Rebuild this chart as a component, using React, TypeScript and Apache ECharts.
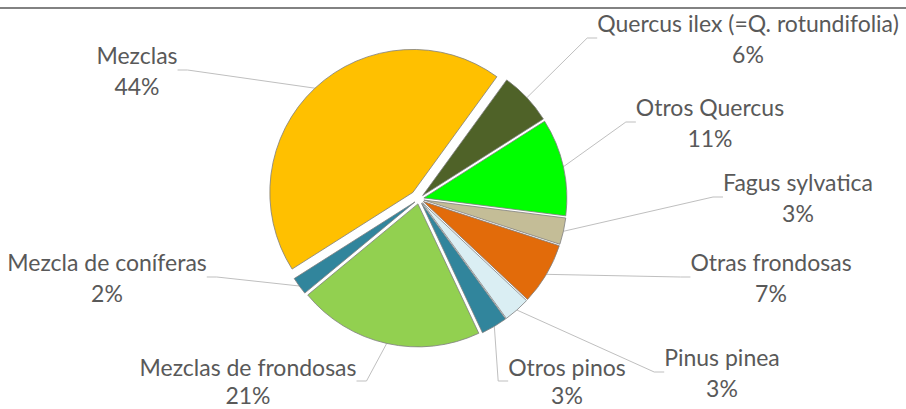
import React, { useEffect, useRef } from "react";
import * as echarts from "echarts";

const categories = [
  "Quercus ilex (=Q. rotundifolia)",
  "Otros Quercus",
  "Fagus sylvatica",
  "Otras frondosas",
  "Pinus pinea",
  "Otros pinos",
  "Mezclas de frondosas",
  "Mezcla de coníferas",
  "Mezclas",
];
const shares = [6, 11, 3, 7, 3, 3, 21, 2, 44];
const sliceColors = [
  "#4F6228",
  "#00FF00",
  "#C4BD97",
  "#E26B0A",
  "#DAEEF3",
  "#31859C",
  "#92D050",
  "#31859C",
  "#FFC000",
];
// explode distance of each slice (px)
const explode = [5, 5, 5, 5, 5, 5, 5, 5, 9];
// label block centres (px)
const labelPos: number[][] = [
  [748, 38],
  [710, 122],
  [798, 197],
  [771, 277],
  [722, 372],
  [567, 381],
  [248, 381],
  [107, 277],
  [137, 70],
];
// label line heights (px)
const labelLineHeights = [31, 31, 31, 31, 31, 28, 28, 31, 31];

const CENTER = [419, 199];
const RADIUS = 143;
const FIRST_ANGLE = 36; // degrees clockwise from 12 o'clock
const FONT = "Lato, 'Open Sans', sans-serif";
const TEXT_COLOR = "#595959";

function buildSeries(idx: number) {
  const total = shares.reduce((a, b) => a + b, 0);
  const before = shares.slice(0, idx).reduce((a, b) => a + b, 0);
  const mid = FIRST_ANGLE + ((before + shares[idx] / 2) / total) * 360;
  const rad = (mid * Math.PI) / 180;
  const cx = CENTER[0] + explode[idx] * Math.sin(rad);
  const cy = CENTER[1] - explode[idx] * Math.cos(rad);
  const data = categories.map((name, i) => {
    const visible = i === idx;
    return {
      name,
      value: shares[i],
      itemStyle: visible
        ? { color: sliceColors[i], borderColor: "#7F7F7F", borderWidth: 0.8 }
        : { color: "rgba(0,0,0,0)", borderWidth: 0 },
      label: { show: visible, lineHeight: labelLineHeights[i] },
      labelLine: { show: visible },
    };
  });
  return {
    type: "pie",
    center: [cx, cy],
    radius: [0, RADIUS],
    startAngle: 90 - FIRST_ANGLE,
    clockwise: true,
    avoidLabelOverlap: false,
    emphasis: { disabled: true },
    label: {
      show: true,
      position: "outside",
      formatter: "{b}\n{c}%",
      color: TEXT_COLOR,
      fontFamily: FONT,
      fontSize: 23,
      lineHeight: 31,
      align: "center",
    },
    labelLine: {
      show: true,
      length: 10,
      length2: 10,
      lineStyle: { color: "#BFBFBF", width: 1 },
    },
    labelLayout: (params: any) => {
      const p = labelPos[params.dataIndex];
      return { x: p[0], y: p[1], align: "center", verticalAlign: "middle" };
    },
    data,
  };
}

export default function App() {
  const ref = useRef<HTMLDivElement>(null);
  useEffect(() => {
    document.body.style.margin = "0";
    if (!ref.current) return;
    const chart = echarts.init(ref.current, undefined, { renderer: "svg" });
    chart.setOption({
      animation: false,
      backgroundColor: "#FFFFFF",
      graphic: [
        {
          type: "line",
          shape: { x1: 0, y1: 8, x2: 906, y2: 8 },
          style: { stroke: "#595959", lineWidth: 1.5 },
        },
      ],
      series: categories.map((_, i) => buildSeries(i)),
    });
    return () => chart.dispose();
  }, []);
  return <div ref={ref} style={{ width: 906, height: 409 }} />;
}
